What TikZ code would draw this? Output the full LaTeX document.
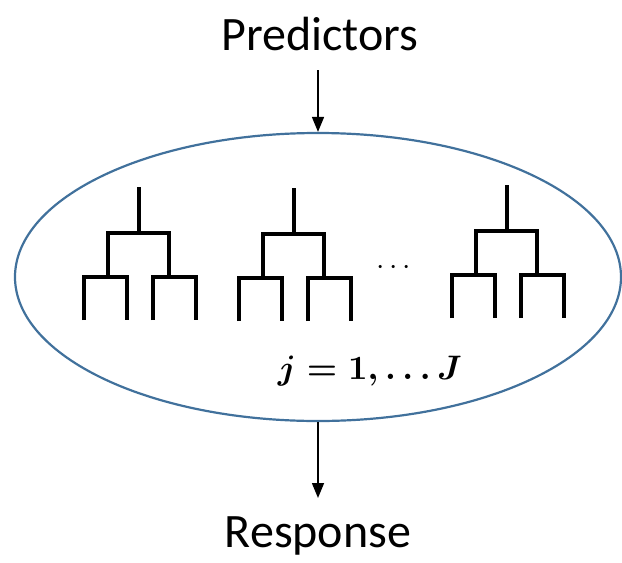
\documentclass[tikz,border=0pt]{standalone}
\usepackage{amsmath}
\usepackage{graphicx}
\usepackage[no-math]{fontspec}
\setmainfont{Carlito}
\usetikzlibrary{arrows.meta,shapes.geometric}
\definecolor{ringblue}{RGB}{65,113,156}
\tikzset{
  label text/.style={font={\fontsize{48}{56}\selectfont}, inner sep=0pt},
  flow/.style={line width=1.5pt, -{Triangle[length=15pt,width=12pt]}},
  branch/.style={line width=4pt, line cap=butt, line join=miter}
}
\newcommand{\jrange}{\scalebox{3.4}{$\boldsymbol{j = 1, \ldots J}$}}
\newcommand{\treegap}{\scalebox{3}{$\cdots$}}
\newcommand{\dendro}[2]{%
  \draw[branch] (#1,#2) -- ++(0,46);
  \draw[branch] (#1-31,#2+90) |- (#1+30,#2+46) -- (#1+30,#2+90);
  \draw[branch] (#1-55,#2+133) |- (#1-12,#2+90) -- (#1-12,#2+133);
  \draw[branch] (#1+14,#2+133) |- (#1+57,#2+90) -- (#1+57,#2+133);
}
\begin{document}
\begin{tikzpicture}[x=1pt, y=-1pt]
  \useasboundingbox (0,0) rectangle (622,563);
  \node[label text] (pred) at (320,34) {Predictors};
  \node[draw=ringblue, line width=2.2pt, ellipse, minimum width=606pt, minimum height=288pt, inner sep=0pt] (forest) at (318,277) {};
  \node[label text] (resp) at (318,536) {Response};
  \node[inner sep=0pt] (gap) at (396,268) {\treegap};
  \node[inner sep=0pt] (jlabel) at (370,371) {\jrange};
  \coordinate (predfoot) at (318,70);
  \coordinate (respfoot) at (318,498);
  \foreach \x/\y in {139/187, 294/188, 507/185}
    {\dendro{\x}{\y}}
  \begin{scope}[flow]
    \draw (predfoot) to (forest.north);
    \draw (forest.south) to (respfoot);
  \end{scope}
\end{tikzpicture}
\end{document}
